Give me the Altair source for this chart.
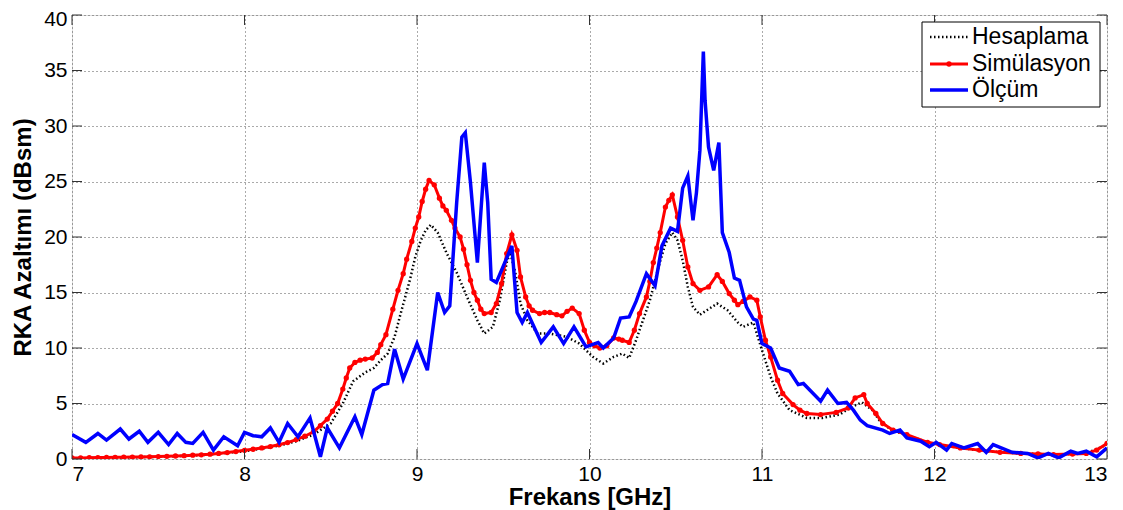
import altair as alt
import pandas as pd

# ---------------- data ----------------
hes_f = [7.00, 7.25, 7.50, 7.75, 8.00, 8.20, 8.30, 8.40, 8.50, 8.57, 8.63, 8.70, 8.75, 8.79, 8.83,
         8.87, 8.90, 8.93, 8.96, 8.99, 9.02, 9.05, 9.08, 9.12, 9.17, 9.23, 9.29, 9.35, 9.39, 9.44,
         9.48, 9.52, 9.54, 9.57, 9.60, 9.64, 9.70, 9.77, 9.87, 9.94, 10.02, 10.08, 10.14, 10.19,
         10.23, 10.27, 10.31, 10.35, 10.40, 10.44, 10.48, 10.51, 10.54, 10.57, 10.60, 10.64, 10.70,
         10.74, 10.80, 10.86, 10.89, 10.95, 11.00, 11.05, 11.09, 11.16, 11.26, 11.35, 11.45, 11.52,
         11.58, 11.64, 11.68, 11.75, 11.85, 11.96, 12.10, 12.30, 12.50, 12.70, 12.88, 13.00]
hes_v = [0.05, 0.12, 0.2, 0.35, 0.7, 1.2, 1.6, 2.2, 3.2, 5.0, 7.0, 7.8, 8.2, 8.9, 9.5,
         11.0, 12.8, 14.5, 16.2, 18.2, 19.6, 20.6, 21.1, 20.4, 18.6, 16.8, 14.6, 12.5, 11.3, 11.9,
         14.3, 17.7, 18.6, 16.8, 14.0, 12.5, 11.3, 11.3, 11.0, 10.4, 9.2, 8.6, 9.2, 9.5,
         9.1, 10.7, 12.5, 14.3, 17.3, 19.4, 20.4, 19.7, 17.9, 15.5, 13.7, 13.0, 13.6,
         14.0, 13.4, 12.3, 11.9, 12.3, 9.8, 7.4, 5.9, 4.4, 3.7, 3.7, 4.0, 4.7,
         5.1, 4.4, 3.5, 2.6, 2.1, 1.5, 1.1, 0.7, 0.5, 0.4, 0.5, 1.3]

sim_f = [7.00, 7.05, 7.10, 7.15, 7.20, 7.25, 7.30, 7.35, 7.40, 7.45, 7.50, 7.55, 7.60, 7.65, 7.70,
         7.75, 7.80, 7.85, 7.90, 7.95, 8.00, 8.05, 8.10, 8.15, 8.20, 8.25, 8.30, 8.35, 8.40, 8.44,
         8.48, 8.51, 8.54, 8.57, 8.59, 8.61, 8.64, 8.67, 8.70, 8.74, 8.77, 8.79, 8.82, 8.86, 8.89,
         8.92, 8.94, 8.97, 8.99, 9.01, 9.03, 9.05, 9.07, 9.10, 9.13, 9.15, 9.17, 9.20, 9.22, 9.25,
         9.27, 9.29, 9.31, 9.33, 9.35, 9.37, 9.39, 9.43, 9.46, 9.49, 9.52, 9.55, 9.58, 9.60, 9.63,
         9.65, 9.67, 9.71, 9.74, 9.77, 9.81, 9.84, 9.87, 9.90, 9.94, 9.97, 10.00, 10.03, 10.06,
         10.10, 10.14, 10.17, 10.19, 10.23, 10.26, 10.29, 10.33, 10.35, 10.37, 10.39, 10.41, 10.44,
         10.46, 10.48, 10.51, 10.54, 10.57, 10.60, 10.64, 10.69, 10.74, 10.77, 10.81, 10.84, 10.86,
         10.89, 10.93, 10.97, 10.99, 11.02, 11.05, 11.09, 11.12, 11.18, 11.22, 11.26, 11.34, 11.43,
         11.50, 11.54, 11.59, 11.61, 11.66, 11.70, 11.76, 11.84, 11.96, 12.03, 12.15, 12.26, 12.38,
         12.50, 12.60, 12.69, 12.80, 12.88, 12.94, 13.00]
sim_v = [0.10, 0.10, 0.12, 0.13, 0.14, 0.15, 0.16, 0.17, 0.18, 0.20, 0.22, 0.24, 0.27, 0.30, 0.34,
         0.38, 0.43, 0.50, 0.58, 0.67, 0.78, 0.88, 1.00, 1.12, 1.28, 1.48, 1.75, 2.05, 2.45, 3.0,
         3.6, 4.3, 5.0, 6.3, 7.3, 8.2, 8.7, 8.9, 9.0, 9.1, 9.6, 10.3, 11.2, 13.5, 15.2,
         16.7, 18.0, 19.6, 20.8, 21.8, 23.2, 24.3, 25.1, 24.7, 23.5, 22.8, 22.4, 21.5, 20.8, 20.0,
         18.9, 17.5, 16.1, 15.0, 14.3, 13.5, 13.1, 13.2, 14.0, 15.8, 18.5, 20.2, 18.8, 16.4, 14.6,
         13.8, 13.4, 13.1, 13.2, 13.2, 13.0, 12.9, 13.3, 13.6, 13.1, 11.6, 10.5, 10.2, 10.0,
         10.2, 10.9, 10.8, 10.7, 10.5, 11.6, 13.1, 14.6, 16.0, 17.7, 19.0, 20.4, 22.7,
         23.3, 23.8, 21.8, 19.7, 17.3, 15.8, 15.2, 15.5, 16.6, 16.0, 14.9, 14.3, 13.9,
         14.2, 14.6, 14.3, 12.8, 10.7, 9.2, 7.1, 5.9, 4.9, 4.4, 4.1, 4.0, 4.2,
         4.6, 5.5, 5.8, 5.0, 4.1, 3.2, 2.6, 2.2, 1.5, 1.3, 1.0, 0.8, 0.6,
         0.5, 0.45, 0.4, 0.45, 0.5, 0.8, 1.4]

olc_f = [7.00, 7.08, 7.15, 7.20, 7.28, 7.33, 7.39, 7.44, 7.50, 7.56, 7.61, 7.66, 7.70, 7.76, 7.82,
         7.88, 7.96, 8.00, 8.05, 8.10, 8.15, 8.20, 8.25, 8.31, 8.38, 8.44, 8.48, 8.55, 8.64, 8.68,
         8.75, 8.80, 8.83, 8.87, 8.92, 9.00, 9.06, 9.12, 9.16, 9.19, 9.23, 9.26, 9.28, 9.31, 9.35,
         9.39, 9.41, 9.43, 9.46, 9.52, 9.55, 9.58, 9.61, 9.64, 9.72, 9.79, 9.85, 9.91, 9.98, 10.05,
         10.08, 10.14, 10.18, 10.23, 10.27, 10.33, 10.38, 10.42, 10.47, 10.51, 10.54, 10.57, 10.60,
         10.62, 10.64, 10.66, 10.67, 10.69, 10.72, 10.75, 10.77, 10.81, 10.84, 10.87, 10.91, 10.95,
         10.97, 11.00, 11.05, 11.10, 11.16, 11.21, 11.24, 11.34, 11.38, 11.44, 11.49, 11.53, 11.57,
         11.61, 11.70, 11.74, 11.80, 11.84, 11.92, 11.97, 12.01, 12.07, 12.10, 12.17, 12.25, 12.30,
         12.34, 12.45, 12.54, 12.60, 12.66, 12.72, 12.79, 12.83, 12.88, 12.94, 13.00]
olc_v = [2.2, 1.5, 2.3, 1.7, 2.7, 1.8, 2.5, 1.5, 2.4, 1.3, 2.3, 1.5, 1.4, 2.4, 0.8,
         2.0, 1.2, 2.4, 2.1, 2.0, 2.8, 1.5, 3.2, 2.0, 3.7, 0.2, 2.8, 1.0, 3.8, 2.2,
         6.2, 6.7, 6.8, 9.9, 7.2, 10.4, 8.0, 15.0, 13.2, 13.8, 23.1, 29.0, 29.4, 24.9, 17.7,
         26.7, 23.1, 16.2, 15.9, 18.1, 19.2, 13.2, 12.3, 13.2, 10.5, 11.9, 10.4, 11.9, 10.1, 10.5,
         10.0, 10.9, 12.7, 12.8, 14.2, 16.7, 15.6, 19.2, 20.8, 20.5, 24.4, 25.5, 21.5,
         24.0, 27.8, 36.7, 32.3, 28.1, 26.0, 28.5, 20.4, 18.6, 16.3, 16.1, 13.7, 12.6,
         12.5, 10.4, 10.0, 8.2, 7.9, 6.7, 6.8, 5.2, 6.2, 5.0, 5.1, 4.4, 3.5,
         3.0, 2.6, 2.3, 2.6, 1.9, 1.6, 1.1, 1.5, 0.8, 1.4, 1.0, 1.4, 0.6,
         1.3, 0.6, 0.5, 0.1, 0.5, 0.1, 0.7, 0.5, 0.7, 0.2, 1.0]

x_ticks = [7, 8, 9, 10, 11, 12, 13]
y_ticks = [0, 5, 10, 15, 20, 25, 30, 35, 40]
legend_labels = ["Hesaplama", "Simülasyon", "Ölçüm"]

# ---------------- layout ----------------
W, H = 1035, 444
FONT = "Liberation Sans"
TICK = 10

hes = pd.DataFrame({"f": hes_f, "v": hes_v})
sim = pd.DataFrame({"f": sim_f, "v": sim_v})
olc = pd.DataFrame({"f": olc_f, "v": olc_v})
xt = pd.DataFrame({"t": x_ticks})
yt = pd.DataFrame({"t": y_ticks})
one = pd.DataFrame({"a": [0]})

xscale = alt.Scale(domain=[7, 13], nice=False, zero=False)
yscale = alt.Scale(domain=[0, 40], nice=False, zero=False)

xaxis = alt.Axis(values=x_ticks, format="d", title="Frekans [GHz]", grid=True,
                 gridDash=[1, 3], gridColor="#555", gridWidth=1, domain=False, ticks=False,
                 labelFont=FONT, labelFontSize=21, labelColor="black", labelPadding=4,
                 titleFont=FONT, titleFontSize=24, titleFontWeight="bold", titleColor="black",
                 titlePadding=1)
yaxis = alt.Axis(values=y_ticks, format="d", title="RKA Azaltımı (dBsm)", grid=True,
                 gridDash=[1, 3], gridColor="#555", gridWidth=1, domain=False, ticks=False,
                 labelFont=FONT, labelFontSize=21, labelColor="black", labelPadding=5,
                 labelOffset={"condition": {"test": "datum.value == 40", "value": 4}, "value": 0},
                 titleFont=FONT, titleFontSize=24, titleFontWeight="bold", titleColor="black",
                 titlePadding=8)

X = alt.X("f:Q", scale=xscale, axis=xaxis)
Y = alt.Y("v:Q", scale=yscale, axis=yaxis)

hes_layer = alt.Chart(hes).mark_line(color="black", strokeWidth=2.5, strokeDash=[1.5, 2.5],
                                     clip=True).encode(x=X, y=Y)
sim_layer = alt.Chart(sim).mark_line(color="#ff0000", strokeWidth=3, clip=True,
                                     point=alt.OverlayMarkDef(filled=True, size=28, color="#ff0000",
                                                              opacity=1)).encode(
    x=alt.X("f:Q", scale=xscale), y=alt.Y("v:Q", scale=yscale))
olc_layer = alt.Chart(olc).mark_line(color="#0000ff", strokeWidth=3.5, clip=True).encode(
    x=alt.X("f:Q", scale=xscale), y=alt.Y("v:Q", scale=yscale))

tick_style = dict(color="#333", strokeWidth=1)
tb = alt.Chart(xt).mark_rule(**tick_style).encode(
    x=alt.X("t:Q", scale=xscale), y=alt.value(H), y2=alt.value(H - TICK))
tt = alt.Chart(xt).mark_rule(**tick_style).encode(
    x=alt.X("t:Q", scale=xscale), y=alt.value(0), y2=alt.value(TICK))
tl = alt.Chart(yt).mark_rule(**tick_style).encode(
    y=alt.Y("t:Q", scale=yscale), x=alt.value(0), x2=alt.value(TICK))
tr = alt.Chart(yt).mark_rule(**tick_style).encode(
    y=alt.Y("t:Q", scale=yscale), x=alt.value(W), x2=alt.value(W - TICK))

# ---------------- legend (manual, MATLAB style) ----------------
LX0, LX1, LY0, LY1 = 850, 1028, 7, 92
rows = [22, 49, 75]
box = alt.Chart(one).mark_rect(fill="white", stroke="black", strokeWidth=1).encode(
    x=alt.value(LX0), x2=alt.value(LX1), y=alt.value(LY0), y2=alt.value(LY1))
l1 = alt.Chart(one).mark_rule(color="black", strokeWidth=2.5, strokeDash=[1.5, 2.5]).encode(
    x=alt.value(858), x2=alt.value(896), y=alt.value(rows[0]))
l2 = alt.Chart(one).mark_rule(color="#ff0000", strokeWidth=3).encode(
    x=alt.value(858), x2=alt.value(896), y=alt.value(rows[1]))
l2p = alt.Chart(one).mark_point(filled=True, size=28, color="#ff0000", opacity=1).encode(
    x=alt.value(877), y=alt.value(rows[1]))
l3 = alt.Chart(one).mark_rule(color="#0000ff", strokeWidth=3.5).encode(
    x=alt.value(858), x2=alt.value(896), y=alt.value(rows[2]))
texts = [alt.Chart(one).mark_text(align="left", baseline="middle", font=FONT, fontSize=23,
                                  color="black").encode(
    x=alt.value(900), y=alt.value(r), text=alt.value(lab)) for r, lab in zip(rows, legend_labels)]

chart = alt.layer(hes_layer, sim_layer, olc_layer, tb, tt, tl, tr,
                  box, l1, l2, l2p, l3, *texts).properties(
    width=W, height=H,
    autosize=alt.AutoSizeParams(type="none"),
    padding={"left": 64, "top": 7, "right": 8, "bottom": 52},
).configure_view(stroke="#333", strokeWidth=1).configure(background="white")

chart.save("out.html", embed_options={"renderer": "svg", "actions": False})
